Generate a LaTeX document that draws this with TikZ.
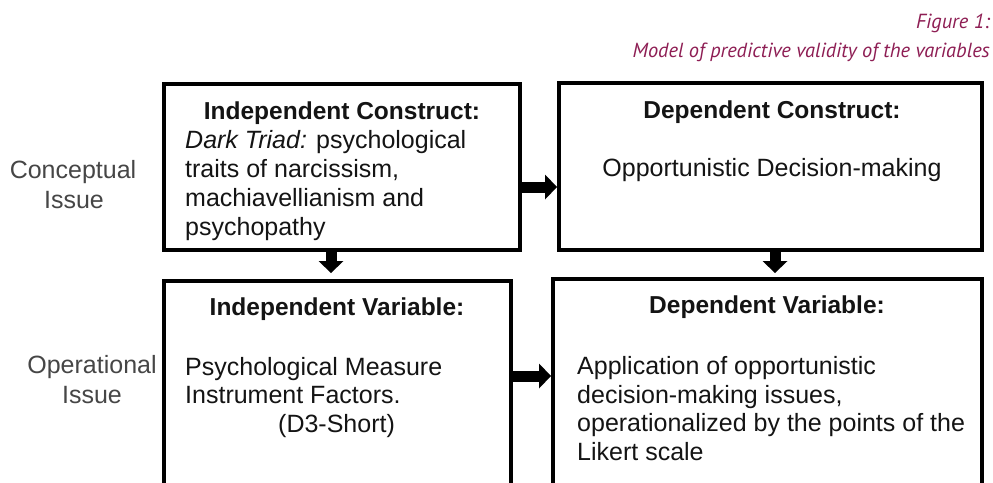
\documentclass[tikz,border=0pt]{standalone}
\usepackage{fontspec}
\setmainfont{Liberation Sans}
\newfontfamily\capfont{PT Sans}
\usetikzlibrary{arrows.meta}
\definecolor{capcol}{RGB}{142,30,84}
\definecolor{ink}{RGB}{20,20,20}
\definecolor{sidecol}{RGB}{70,70,70}
\begin{document}
\begin{tikzpicture}[x=1pt,y=-1pt,
  box/.style={draw=black, line width=4pt, fill=white, rectangle, inner sep=0pt},
  txt/.style={inner sep=0pt, anchor=base west, text=ink, font=\fontsize{25}{29}\selectfont},
  ttl/.style={inner sep=0pt, anchor=base, text=ink, font=\fontsize{24.5}{29}\selectfont\bfseries},
  side/.style={inner sep=0pt, anchor=base, text=sidecol, font=\fontsize{25}{29}\selectfont},
  captext/.style={inner sep=0pt, anchor=base east, text=capcol, font=\capfont\itshape\fontsize{20.4}{24}\selectfont},
  flow/.style={line width=11pt, -{Triangle[length=12pt,width=25pt,line width=0pt]}}]
\useasboundingbox (0,0) rectangle (993,482);
\clip (0,0) rectangle (993,482);
\fill[white] (0,0) rectangle (993,482);

% caption
\node[captext] (fig) at (990,28) {Figure 1:};
\node[captext] (title) at (990,57) {Model of predictive validity of the variables};

% row labels
\node[side] (concA) at (73,178) {Conceptual};
\node[side] (concB) at (74,208) {Issue};
\node[side] (operA) at (92,373) {Operational};
\node[side] (operB) at (92,403) {Issue};

% boxes
\node[box, minimum width=356pt, minimum height=166pt] (ic) at (342,167) {};
\node[box, minimum width=423pt, minimum height=167pt] (dc) at (770.5,166.5) {};
\node[box, minimum width=347pt, minimum height=239pt] (iv) at (337.5,400.5) {};
\node[box, minimum width=429pt, minimum height=241pt] (dv) at (767.5,399.5) {};

% independent construct
\node[ttl] (icT) at (342,119) {Independent Construct:};
\node[txt] (ic1) at (185,148) {\textit{Dark Triad:} psychological};
\node[txt] (ic2) at (185,177) {traits of narcissism,};
\node[txt] (ic3) at (185,206) {machiavellianism and};
\node[txt] (ic4) at (185,235) {psychopathy};

% dependent construct
\node[ttl] (dcT) at (772,118) {Dependent Construct:};
\node[txt, anchor=base] (dc1) at (772,176) {Opportunistic Decision-making};

% independent variable
\node[ttl] (ivT) at (337,315) {Independent Variable:};
\node[txt] (iv1) at (185,375) {Psychological Measure};
\node[txt] (iv2) at (185,403) {Instrument Factors.};
\node[txt] (iv3) at (278,432) {(D3-Short)};

% dependent variable
\node[ttl] (dvT) at (767,313) {Dependent Variable:};
\node[txt] (dv1) at (577,374) {Application of opportunistic};
\node[txt] (dv2) at (577,403) {decision-making issues,};
\node[txt] (dv3) at (577,431) {operationalized by the points of the};
\node[txt] (dv4) at (577,460) {Likert scale};

% connectors
\draw[flow] ([yshift=-20pt]ic.east) -- ([yshift=-20pt]ic.east -| dc.west);
\draw[flow, shorten >=6pt] ([xshift=-11pt]ic.south) -- ([xshift=-11pt]ic.south |- iv.north);
\draw[flow, shorten >=4pt] ([xshift=4.5pt]dc.south) -- ([xshift=4.5pt]dc.south |- dv.north);
\draw[flow] ([yshift=-97pt]iv.north east) -- ([yshift=-97pt]iv.north east -| dv.west);
\end{tikzpicture}
\end{document}
